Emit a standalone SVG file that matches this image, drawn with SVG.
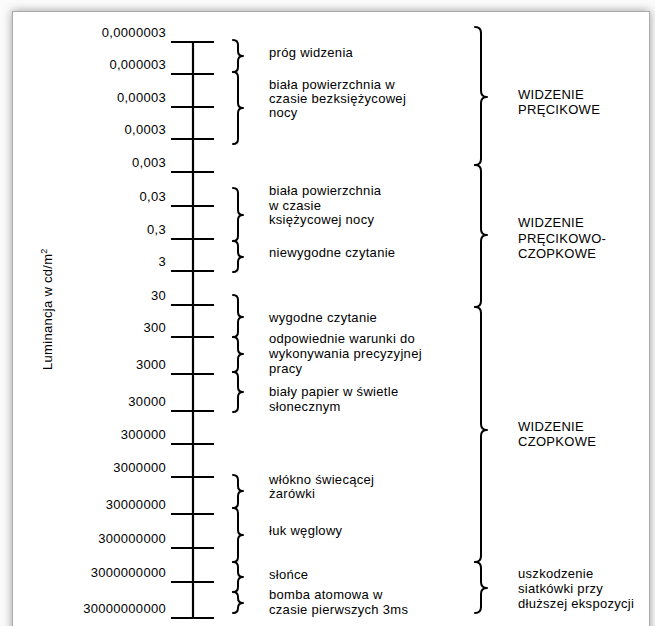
<svg xmlns="http://www.w3.org/2000/svg" width="655" height="626" viewBox="0 0 655 626">
<defs>
<filter id="sh" x="-5%" y="-5%" width="110%" height="110%"><feGaussianBlur stdDeviation="5"/></filter>
</defs>
<style>
text{font-family:"Liberation Sans",Arial,sans-serif;font-size:13px;fill:#000;letter-spacing:0.3px}
.num{text-anchor:end}
.tick{stroke:#000;stroke-width:2.2}
.br{fill:none;stroke:#000;stroke-width:2;stroke-linejoin:round;stroke-linecap:round}
</style>
<rect width="655" height="626" fill="#fbfbfb"/>
<rect x="12" y="11" width="638" height="700" fill="#9a9a9a" filter="url(#sh)"/>
<rect x="12.5" y="11.5" width="637" height="640" fill="#fff" stroke="#aaa" stroke-width="1"/>

<g id="scale">
<line class="tick" x1="193" y1="42" x2="193" y2="618"/>
<line class="tick" x1="171" y1="42" x2="214" y2="42"/>
<line class="tick" x1="171" y1="74" x2="214" y2="74"/>
<line class="tick" x1="171" y1="107" x2="214" y2="107"/>
<line class="tick" x1="171" y1="139" x2="214" y2="139"/>
<line class="tick" x1="171" y1="172" x2="214" y2="172"/>
<line class="tick" x1="171" y1="206" x2="214" y2="206"/>
<line class="tick" x1="171" y1="239" x2="214" y2="239"/>
<line class="tick" x1="171" y1="271" x2="214" y2="271"/>
<line class="tick" x1="171" y1="305" x2="214" y2="305"/>
<line class="tick" x1="171" y1="337" x2="214" y2="337"/>
<line class="tick" x1="171" y1="374" x2="214" y2="374"/>
<line class="tick" x1="171" y1="411" x2="214" y2="411"/>
<line class="tick" x1="171" y1="444" x2="214" y2="444"/>
<line class="tick" x1="171" y1="477" x2="214" y2="477"/>
<line class="tick" x1="171" y1="514" x2="214" y2="514"/>
<line class="tick" x1="171" y1="548" x2="214" y2="548"/>
<line class="tick" x1="171" y1="582" x2="214" y2="582"/>
<line class="tick" x1="171" y1="618" x2="214" y2="618"/>
</g>

<g id="scale-labels">
<text class="num" x="166" y="37">0,0000003</text>
<text class="num" x="166" y="69">0,000003</text>
<text class="num" x="166" y="102">0,00003</text>
<text class="num" x="166" y="134">0,0003</text>
<text class="num" x="166" y="167">0,003</text>
<text class="num" x="166" y="201">0,03</text>
<text class="num" x="166" y="234">0,3</text>
<text class="num" x="166" y="266">3</text>
<text class="num" x="166" y="300">30</text>
<text class="num" x="166" y="332">300</text>
<text class="num" x="166" y="369">3000</text>
<text class="num" x="166" y="406">30000</text>
<text class="num" x="166" y="439">300000</text>
<text class="num" x="166" y="472">3000000</text>
<text class="num" x="166" y="509">30000000</text>
<text class="num" x="166" y="543">300000000</text>
<text class="num" x="166" y="577">3000000000</text>
<text class="num" x="166" y="613">30000000000</text>
</g>

<g id="axis-title">
<text transform="translate(52,370) rotate(-90)">Luminancja w cd/m<tspan font-size="9" dy="-5">2</tspan></text>
</g>

<g id="connectors">
<path class="br" d="M233,40 Q238,40 238,45 L238,51 Q238,56 243,56 Q238,56 238,61 L238,67 Q238,72 233,72"/>
<path class="br" d="M233,72 Q238,72 238,77 L238,103 Q238,108 243,108 Q238,108 238,113 L238,139 Q238,144 233,144"/>
<path class="br" d="M233,188 Q238,188 238,193 L238,210 Q238,215 243,215 Q238,215 238,220 L238,236 Q238,241 233,241"/>
<path class="br" d="M233,241 Q238,241 238,246 L238,252 Q238,257 243,257 Q238,257 238,262 L238,267 Q238,272 233,272"/>
<path class="br" d="M233,295 Q238,295 238,300 L238,312 Q238,317 243,317 Q238,317 238,322 L238,332 Q238,337 233,337"/>
<path class="br" d="M233,337 Q238,337 238,342 L238,349 Q238,354 243,354 Q238,354 238,359 L238,367 Q238,372 233,372"/>
<path class="br" d="M233,372 Q238,372 238,377 L238,387 Q238,392 243,392 Q238,392 238,397 L238,407 Q238,412 233,412"/>
<path class="br" d="M233,475 Q238,475 238,480 L238,486 Q238,491 243,491 Q238,491 238,496 L238,503 Q238,508 233,508"/>
<path class="br" d="M233,508 Q238,508 238,513 L238,530 Q238,535 243,535 Q238,535 238,540 L238,557 Q238,562 233,562"/>
<path class="br" d="M233,562 Q238,562 238,567 L238,572 Q238,577 243,577 Q238,577 238,582 L238,587 Q238,592 233,592"/>
<path class="br" d="M233,592 Q238,592 238,597 L238,598 Q238,603 243,603 Q238,603 238,608 L238,608 Q238,613 233,613"/>
<path class="br" d="M475,27 Q481,27 481,33 L481,91 Q481,97 487,97 Q481,97 481,103 L481,159 Q481,165 475,165"/>
<path class="br" d="M475,165 Q481,165 481,171 L481,229 Q481,235 487,235 Q481,235 481,241 L481,301 Q481,307 475,307"/>
<path class="br" d="M475,307 Q481,307 481,313 L481,424 Q481,430 487,430 Q481,430 481,436 L481,556 Q481,562 475,562"/>
<path class="br" d="M475,562 Q481,562 481,568 L481,582 Q481,588 487,588 Q481,588 481,594 L481,607 Q481,613 475,613"/>
</g>

<g id="n-prog"><text x="269" y="57">próg widzenia</text></g>
<g id="n-bezksiezycowa"><text x="269" y="89">biała powierzchnia w</text><text x="269" y="103">czasie bezksiężycowej</text><text x="269" y="117">nocy</text></g>
<g id="n-ksiezycowa"><text x="269" y="195">biała powierzchnia</text><text x="269" y="209.5">w czasie</text><text x="269" y="224">księżycowej nocy</text></g>
<g id="n-niewygodne"><text x="269" y="257">niewygodne czytanie</text></g>
<g id="n-wygodne"><text x="269" y="322">wygodne czytanie</text></g>
<g id="n-precyzyjna"><text x="269" y="343">odpowiednie warunki do</text><text x="269" y="358">wykonywania precyzyjnej</text><text x="269" y="373">pracy</text></g>
<g id="n-papier"><text x="269" y="396">biały papier w świetle</text><text x="269" y="410.5">słonecznym</text></g>
<g id="n-wlokno"><text x="269" y="484">włókno świecącej</text><text x="269" y="498">żarówki</text></g>
<g id="n-luk"><text x="269" y="535">łuk węglowy</text></g>
<g id="n-slonce"><text x="269" y="579">słońce</text></g>
<g id="n-bomba"><text x="269" y="599">bomba atomowa w</text><text x="269" y="614">czasie pierwszych 3ms</text></g>

<g id="g-precikowe"><text x="518" y="99">WIDZENIE</text><text x="518" y="114">PRĘCIKOWE</text></g>
<g id="g-precikowo-czopkowe"><text x="518" y="227">WIDZENIE</text><text x="518" y="243">PRĘCIKOWO-</text><text x="518" y="258">CZOPKOWE</text></g>
<g id="g-czopkowe"><text x="518" y="431">WIDZENIE</text><text x="518" y="446">CZOPKOWE</text></g>
<g id="g-uszkodzenie"><text x="518" y="578">uszkodzenie</text><text x="518" y="593">siatkówki przy</text><text x="518" y="608">dłuższej ekspozycji</text></g>
</svg>
